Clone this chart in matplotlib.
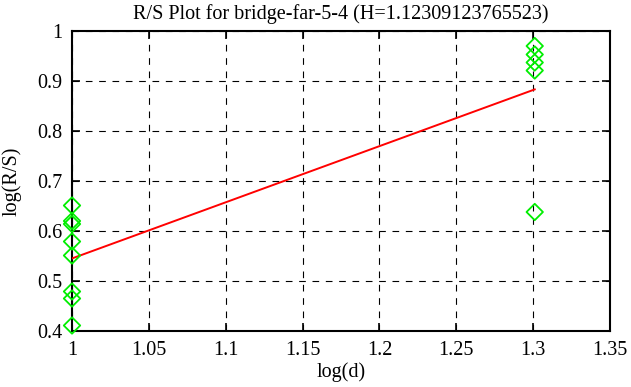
import matplotlib

matplotlib.use("Agg")
import matplotlib.pyplot as plt
import numpy as np

# log(d) / log(R/S) 量測點
log_d_small = 1.0
log_d_large = np.log10(20)
rs_small = [0.651, 0.620, 0.614, 0.579, 0.551, 0.479, 0.465, 0.411]
rs_large = [0.970, 0.953, 0.937, 0.921, 0.638]

# 擬合線：斜率即 H
H = 1.12309123765523
intercept = -0.578

title = f"R/S Plot for bridge-far-5-4 (H={H})"
xticks = [1, 1.05, 1.1, 1.15, 1.2, 1.25, 1.3, 1.35]
xtick_labels = ["1", "1.05", "1.1", "1.15", "1.2", "1.25", "1.3", "1.35"]
yticks = [0.4, 0.5, 0.6, 0.7, 0.8, 0.9, 1.0]
ytick_labels = ["0.4", "0.5", "0.6", "0.7", "0.8", "0.9", "1"]

plt.rcParams["font.family"] = ["Liberation Serif", "DejaVu Serif"]

W, Hpx = 631, 387
fig = plt.figure(figsize=(W / 100, Hpx / 100), dpi=100)
left, right, top, bottom = 72, 610, 31, 331
ax = fig.add_axes([left / W, 1 - bottom / Hpx, (right - left) / W, (bottom - top) / Hpx])

xs = [log_d_small] * len(rs_small) + [log_d_large] * len(rs_large)
ys = rs_small + rs_large
ax.scatter(xs, ys, marker="D", s=70, facecolors="none", edgecolors="#00ee00",
           linewidths=1.3, zorder=4, clip_on=False)

fit_x = np.array([log_d_small, log_d_large])
ax.plot(fit_x, H * fit_x + intercept, color="#ff0000", linewidth=1.4, zorder=3)

ax.set_xlim(1, 1.35)
ax.set_ylim(0.4, 1.0)
ax.set_xticks(xticks, xtick_labels)
ax.set_yticks(yticks, ytick_labels)
ax.grid(True, color="black", linestyle=(0, (6, 6)), linewidth=0.8)
ax.tick_params(direction="in", length=6, width=1.2, top=True, right=True,
               labelsize=14.5, pad=7)
for s in ax.spines.values():
    s.set_linewidth(1.5)

ax.set_xlabel("log(d)", fontsize=14.5, labelpad=2)
ax.set_ylabel("log(R/S)", fontsize=14.5, labelpad=11)
ax.set_title(title, fontsize=14.5, pad=8.5)

fig.savefig("out.png", dpi=100)
